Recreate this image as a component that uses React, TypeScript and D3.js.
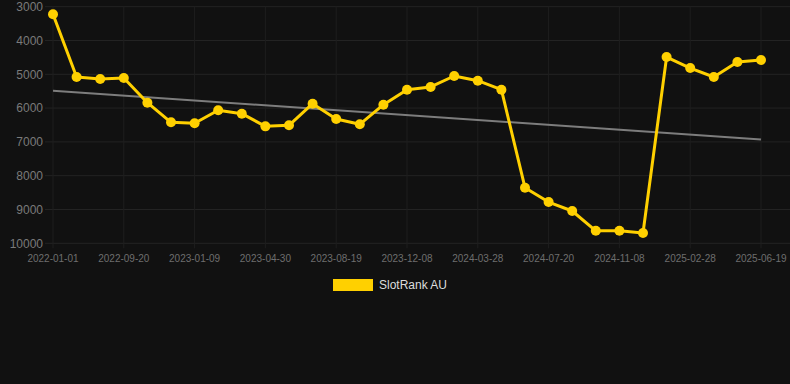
import React from "react";
import * as d3 from "d3";

const dates = [
  "2022-01-01", "2022-03-29", "2022-06-24", "2022-09-20", "2022-10-27", "2022-12-03",
  "2023-01-09", "2023-02-15", "2023-03-24", "2023-04-30", "2023-06-06", "2023-07-13",
  "2023-08-19", "2023-09-25", "2023-11-01", "2023-12-08", "2024-01-14", "2024-02-20",
  "2024-03-28", "2024-05-04", "2024-06-12", "2024-07-20", "2024-08-26", "2024-10-02",
  "2024-11-08", "2024-12-15", "2025-01-21", "2025-02-28", "2025-04-06", "2025-05-13",
  "2025-06-19",
];
const values = [
  3225, 5080, 5140, 5110, 5840, 6420, 6450, 6065, 6165, 6540, 6510, 5870, 6320, 6480,
  5900, 5455, 5375, 5050, 5190, 5455, 8355, 8780, 9045, 9630, 9630, 9695, 4490, 4815,
  5080, 4635, 4575,
];
const yTicks = [3000, 4000, 5000, 6000, 7000, 8000, 9000, 10000];
const seriesName = "SlotRank AU";

export default function App() {
  const W = 790, H = 384;
  const x = d3.scalePoint<string>().domain(dates).range([53, 761]);
  const y = d3.scaleLinear().domain([3000, 10000]).range([6.7, 243.3]);
  const labelDates = dates.filter((_, i) => i % 3 === 0);

  // linear regression over index
  const n = values.length;
  const xs = values.map((_, i) => i);
  const mx = d3.mean(xs)!;
  const my = d3.mean(values)!;
  const slope = d3.sum(xs.map((xi, i) => (xi - mx) * (values[i] - my))) / d3.sum(xs.map((xi) => (xi - mx) ** 2));
  const icpt = my - slope * mx;

  const line = d3.line<number>().x((_, i) => x(dates[i])!).y((v) => y(v));
  const font = "'Liberation Sans', Arial, Helvetica, sans-serif";

  return (
    <svg width={W} height={H} style={{ position: "fixed", left: 0, top: 0, background: "#111111" }} fontFamily={font}>
      <rect x={0} y={0} width={W} height={H} fill="#111111" />
      {yTicks.map((t) => (
        <g key={t}>
          <line x1={45} x2={790} y1={y(t)} y2={y(t)} stroke="#232323" strokeWidth={1} />
          <text x={43} y={y(t)} dy="0.35em" textAnchor="end" fontSize={12} fill="#7a7a7a">{t}</text>
        </g>
      ))}
      {labelDates.map((d) => (
        <g key={d}>
          <line x1={x(d)} x2={x(d)} y1={y(3000)} y2={y(10000) + 5} stroke="#1e1e1e" strokeWidth={1} />
          <text x={x(d)} y={262} textAnchor="middle" fontSize={10} fill="#6e6e6e">{d}</text>
        </g>
      ))}
      <line x1={x(dates[0])} y1={y(icpt)} x2={x(dates[n - 1])} y2={y(icpt + slope * (n - 1))} stroke="#7d7d7d" strokeWidth={2} />
      <path d={line(values)!} fill="none" stroke="#FFD000" strokeWidth={3} strokeLinejoin="round" />
      {values.map((v, i) => (
        <circle key={i} cx={x(dates[i])} cy={y(v)} r={5} fill="#FFD000" />
      ))}
      <rect x={333} y={279} width={40} height={12} fill="#FFD000" />
      <text x={379} y={289} fontSize={12} fill="#dddddd">{seriesName}</text>
    </svg>
  );
}
